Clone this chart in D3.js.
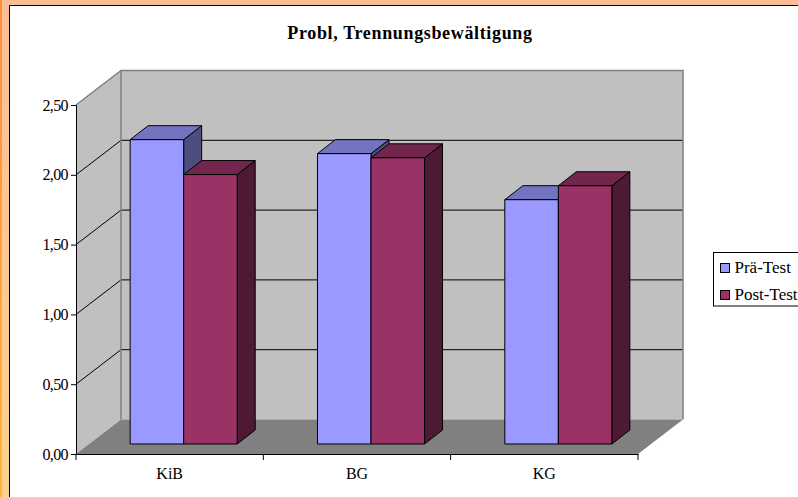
<!DOCTYPE html>
<html>
<head>
<meta charset="utf-8">
<script src="https://cdn.jsdelivr.net/npm/d3@7"></script>
<style>
  html, body { margin: 0; padding: 0; background: #fff; overflow: hidden; }
  svg { display: block; font-family: "Liberation Serif", serif; }
</style>
</head>
<body>
<div id="chart"></div>
<script>
// Data
const categories = ["KiB", "BG", "KG"];
const seriesNames = ["Prä-Test", "Post-Test"];
const preTest = [2.18, 2.08, 1.75];
const postTest = [1.93, 2.05, 1.85];
const yTicks = [0, 0.5, 1, 1.5, 2, 2.5];

// Constants
const width = 798;
const height = 497;
const plot = {left: 76, right: 638, top: 105, bottom: 454};
const depth = {x: 45, y: -34.5};    // back wall offset
const barBase = {x: 14, y: -10};    // where the bars stand on the floor
const barDepth = {x: 18, y: -14};

const colors = {
  pre: "#9999ff", preTop: "#7373bf", preSide: "#4d4d80",
  post: "#993366", postTop: "#73264d", postSide: "#4d1933",
  wall: "#c0c0c0", floor: "#808080"
};

const svg = d3.select("#chart")
  .append("svg")
    .attr("width", width)
    .attr("height", height)
    .attr("viewBox", `0 0 ${width} ${height}`);

// Gradient for the orange slide background
const defs = svg.append("defs");
const stripe = defs.append("linearGradient")
  .attr("id", "stripe").attr("x1", 0).attr("x2", 0).attr("y1", 0).attr("y2", 1);
stripe.append("stop").attr("offset", "0%").attr("stop-color", "#ff8f3f");
stripe.append("stop").attr("offset", "100%").attr("stop-color", "#ffb53c");
const peach = defs.append("linearGradient")
  .attr("id", "peach").attr("x1", 0).attr("x2", 0).attr("y1", 0).attr("y2", 1);
peach.append("stop").attr("offset", "0%").attr("stop-color", "#fbbd96");
peach.append("stop").attr("offset", "100%").attr("stop-color", "#fdd28f");

svg.append("rect").attr("width", width).attr("height", height).attr("fill", "#fff");
svg.append("rect").attr("x", 0).attr("y", 0).attr("width", 9).attr("height", height).attr("fill", "url(#peach)");
svg.append("rect").attr("x", 0).attr("y", 0).attr("width", width).attr("height", 5).attr("fill", "#fbbd96");
svg.append("rect").attr("x", 0).attr("y", 0).attr("width", 2).attr("height", height).attr("fill", "url(#stripe)");
svg.append("path").attr("d", `M9.5,${height}V5.5H${width}`)
  .attr("fill", "none").attr("stroke", "#000").attr("stroke-width", 1);

// Scales
const xScale = d3.scaleBand().domain(categories).range([plot.left, plot.right]);
const seriesScale = d3.scaleBand().domain(seriesNames).range([0, xScale.step()])
  .paddingInner(0).paddingOuter(0.75);
const yScale = d3.scaleLinear().domain([0, 2.5]).range([plot.bottom, plot.top]);

const poly = pts => pts.map(p => p.join(",")).join(" ");

// Walls and floor
const yMin = yScale(0), yMax = yScale(2.5);
svg.append("polygon")
  .attr("points", poly([[plot.left, yMin], [plot.left + depth.x, yMin + depth.y], [plot.left + depth.x, yMax + depth.y], [plot.left, yMax]]))
  .attr("fill", colors.wall);
svg.append("polygon")
  .attr("points", poly([[plot.left + depth.x, yMin + depth.y], [plot.right + depth.x, yMin + depth.y], [plot.right + depth.x, yMax + depth.y], [plot.left + depth.x, yMax + depth.y]]))
  .attr("fill", colors.wall);
svg.append("polygon")
  .attr("points", poly([[plot.left, yMin], [plot.left + depth.x, yMin + depth.y], [plot.right + depth.x, yMin + depth.y], [plot.right, yMin]]))
  .attr("fill", colors.floor);

// Gridlines
yTicks.filter(d => d > 0 && d < 2.5).forEach(d => {
  svg.append("polyline")
    .attr("points", poly([[plot.left, yScale(d)], [plot.left + depth.x, yScale(d) + depth.y], [plot.right + depth.x, yScale(d) + depth.y]]))
    .attr("fill", "none")
    .attr("stroke", "#000");
});

// Wall edges
svg.append("polyline")
  .attr("points", poly([[plot.left, yMax], [plot.left + depth.x, yMax + depth.y], [plot.right + depth.x, yMax + depth.y], [plot.right + depth.x, yMin + depth.y]]))
  .attr("fill", "none").attr("stroke", "#808080").attr("stroke-width", 1.5);
svg.append("line")
  .attr("x1", plot.left + depth.x).attr("x2", plot.left + depth.x)
  .attr("y1", yMax + depth.y).attr("y2", yMin + depth.y)
  .attr("stroke", "#808080").attr("stroke-width", 1.5);

// Bars
const drawBar = (category, series, value, front, topFace, side) => {
  const x0 = xScale(category) + seriesScale(series) + barBase.x;
  const x1 = x0 + seriesScale.bandwidth();
  const y0 = yScale(0) + barBase.y;
  const y1 = yScale(value) + barBase.y;
  const g = svg.append("g").attr("stroke", "#000").attr("stroke-linejoin", "round");
  g.append("polygon")
    .attr("points", poly([[x1, y1], [x1 + barDepth.x, y1 + barDepth.y], [x1 + barDepth.x, y0 + barDepth.y], [x1, y0]]))
    .attr("fill", side);
  g.append("polygon")
    .attr("points", poly([[x0, y1], [x0 + barDepth.x, y1 + barDepth.y], [x1 + barDepth.x, y1 + barDepth.y], [x1, y1]]))
    .attr("fill", topFace);
  g.append("polygon")
    .attr("points", poly([[x0, y1], [x1, y1], [x1, y0], [x0, y0]]))
    .attr("fill", front);
};

categories.forEach((c, i) => {
  drawBar(c, seriesNames[0], preTest[i], colors.pre, colors.preTop, colors.preSide);
  drawBar(c, seriesNames[1], postTest[i], colors.post, colors.postTop, colors.postSide);
});

// Axes
const leftAxis = d3.axisLeft(yScale)
  .tickValues(yTicks)
  .tickFormat(d => d3.format(".2f")(d).replace(".", ","))
  .tickSizeOuter(0)
  .tickSize(5)
  .tickPadding(3);
const yAxis = svg.append("g")
  .attr("transform", `translate(${plot.left}, 0)`)
  .call(leftAxis);
yAxis.selectAll("text")
  .attr("font-family", "Liberation Serif")
  .attr("font-size", 16)
  .attr("letter-spacing", -0.6)
  .attr("fill", "#000");

const bottomAxis = d3.axisBottom(xScale).tickSize(0).tickPadding(14);
const xAxis = svg.append("g")
  .attr("transform", `translate(0, ${plot.bottom})`)
  .call(bottomAxis);
xAxis.selectAll("text")
  .attr("font-family", "Liberation Serif")
  .attr("font-size", 16)
  .attr("fill", "#000");
// Category ticks sit between the categories
d3.range(categories.length + 1).forEach(i => {
  xAxis.append("line")
    .attr("x1", plot.left + i * xScale.step())
    .attr("x2", plot.left + i * xScale.step())
    .attr("y1", 0)
    .attr("y2", 6)
    .attr("stroke", "#000");
});

// Title
svg.append("text")
  .text("Probl, Trennungsbewältigung")
  .attr("x", 410)
  .attr("y", 39)
  .attr("text-anchor", "middle")
  .attr("font-size", 18)
  .attr("letter-spacing", 0.65)
  .attr("font-weight", "bold")
  .attr("fill", "#000");

// Legend (runs off the right edge like the original)
const legend = svg.append("g").attr("transform", "translate(713.5, 252.5)");
legend.append("rect")
  .attr("width", 100)
  .attr("height", 53.5)
  .attr("fill", "#fff")
  .attr("stroke", "#000");
seriesNames.forEach((name, i) => {
  const row = legend.append("g").attr("transform", `translate(0, ${i * 27})`);
  row.append("rect")
    .attr("x", 7)
    .attr("y", 11)
    .attr("width", 9)
    .attr("height", 9)
    .attr("fill", i === 0 ? colors.pre : colors.post)
    .attr("stroke", "#000");
  row.append("text")
    .text(name)
    .attr("x", 21)
    .attr("y", 20.5)
    .attr("font-size", 17)
    .attr("fill", "#000");
});
</script>
</body>
</html>
